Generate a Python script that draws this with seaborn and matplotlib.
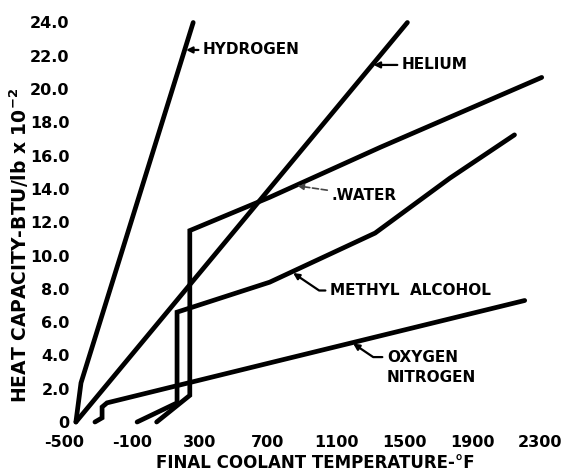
import matplotlib
matplotlib.use("Agg")
import matplotlib.pyplot as plt
import seaborn as sns
import pandas as pd

# Heat capacity of candidate coolants vs. final coolant temperature
# temperature in deg F, heat capacity in BTU/lb x 10^-2
hydrogen_temp = [-430, -400, 260]
hydrogen_cap = [0.0, 2.35, 24.0]

helium_temp = [-430, 1520]
helium_cap = [0.0, 24.0]

water_temp = [45, 240, 240, 710, 1360, 2310]
water_cap = [0.0, 1.6, 11.5, 13.5, 16.5, 20.7]

methyl_temp = [-70, 165, 165, 710, 1330, 1770, 2150]
methyl_cap = [0.0, 1.15, 6.6, 8.4, 11.35, 14.65, 17.25]

oxygen_temp = [-318, -276, -276, -247, 770, 2210]
oxygen_cap = [0.0, 0.25, 0.9, 1.15, 3.7, 7.3]

x_ticks = [-500, -100, 300, 700, 1100, 1500, 1900, 2300]
y_ticks = [0, 2, 4, 6, 8, 10, 12, 14, 16, 18, 20, 22, 24]
y_tick_labels = ["0", "2.0", "4.0", "6.0", "8.0", "10.0", "12.0", "14.0",
                 "16.0", "18.0", "20.0", "22.0", "24.0"]

series = {
    "HYDROGEN": (hydrogen_temp, hydrogen_cap),
    "HELIUM": (helium_temp, helium_cap),
    "WATER": (water_temp, water_cap),
    "METHYL ALCOHOL": (methyl_temp, methyl_cap),
    "OXYGEN NITROGEN": (oxygen_temp, oxygen_cap),
}
frames = []
for name, (t, c) in series.items():
    frames.append(pd.DataFrame({"coolant": name, "temp": t, "cap": c}))
df = pd.concat(frames, ignore_index=True)

sns.set_theme(style="white")
plt.rcParams["font.family"] = ["DejaVu Sans"]
plt.rcParams["font.weight"] = "bold"
plt.rcParams["text.color"] = "black"

W, H = 561, 475
x_left_px, x_right_px = 60.6, 548.5
y_bottom_px, y_top_px = 432.0, 12.5
fig = plt.figure(figsize=(W / 100, H / 100), dpi=100)
ax = fig.add_axes([x_left_px / W, (H - y_bottom_px) / H,
                   (x_right_px - x_left_px) / W, (y_bottom_px - y_top_px) / H])

sns.lineplot(data=df, x="temp", y="cap", hue="coolant",
             palette=["black"] * len(series), estimator=None, sort=False,
             units="coolant", legend=False, linewidth=3.4, ax=ax)
for line in ax.get_lines():
    line.set_solid_capstyle("round")
    line.set_solid_joinstyle("miter")

ax.set_xlim(-520, 2350)
ax.set_ylim(-0.6, 24.6)
ax.set_xticks(x_ticks)
ax.set_xticklabels([str(v) for v in x_ticks])
ax.set_yticks(y_ticks)
ax.set_yticklabels(y_tick_labels)
ax.tick_params(axis="both", length=0, labelsize=11.5, colors="black")
ax.tick_params(axis="x", pad=2)
ax.tick_params(axis="y", pad=-6.5)
for lab in ax.get_xticklabels() + ax.get_yticklabels():
    lab.set_fontweight("bold")
ax.set_xlabel("")
ax.set_ylabel("")
sns.despine(ax=ax, left=True, bottom=True)

fig.text(315 / W, 1 - 463 / H, "FINAL COOLANT TEMPERATURE-°F",
         ha="center", va="center", fontsize=12, fontweight="bold",
         color="black")
fig.text(19 / W, 1 - 245 / H, "HEAT CAPACITY-BTU/lb x 10$^{-2}$",
         ha="center", va="center", rotation=90, fontsize=13.5,
         fontweight="bold", color="black")

arrow = dict(arrowstyle="-|>", color="black", lw=1.6, mutation_scale=9,
             shrinkA=1, shrinkB=1)
lab_kw = dict(ha="left", va="center", fontsize=11, fontweight="bold",
              color="black")

ax.annotate("HYDROGEN", xy=(210, 22.35), xytext=(318, 22.35),
            arrowprops=arrow, **lab_kw)
ax.annotate("HELIUM", xy=(1313, 21.45), xytext=(1488, 21.45),
            arrowprops=arrow, **lab_kw)
ax.annotate(".WATER", xy=(865, 14.2), xytext=(1076, 13.6),
            arrowprops=dict(arrow, color="#444444", lw=1.2, linestyle="--"),
            **lab_kw)
ax.annotate("METHYL  ALCOHOL", xy=(841, 9.0), xytext=(1065, 7.9),
            arrowprops=dict(arrow, connectionstyle="angle,angleA=0,angleB=-34,rad=0"),
            **lab_kw)
ax.annotate("OXYGEN", xy=(1194, 4.76), xytext=(1400, 3.9),
            arrowprops=dict(arrow, connectionstyle="angle,angleA=0,angleB=-34,rad=0"),
            **lab_kw)
ax.text(1400, 2.7, "NITROGEN", **lab_kw)

fig.savefig("out.png", dpi=100, facecolor="white")
